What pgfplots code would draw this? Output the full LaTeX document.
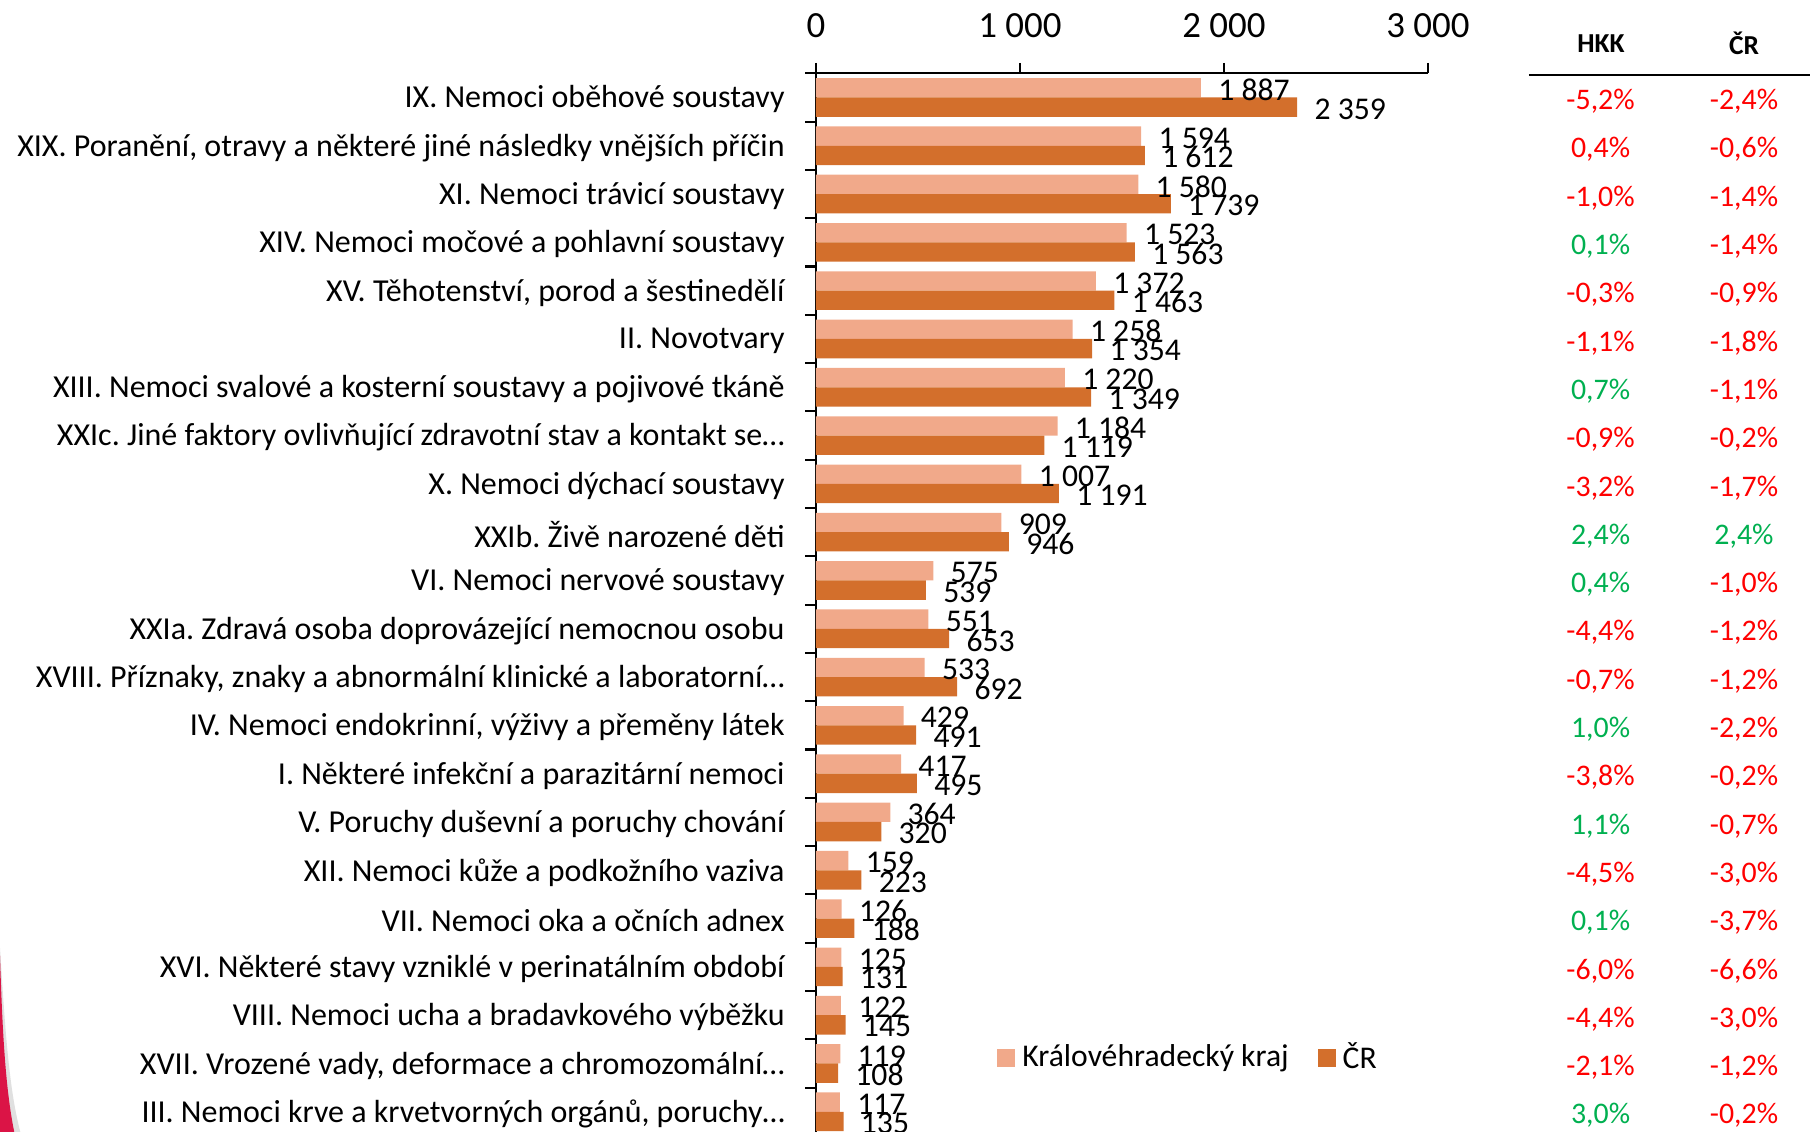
\documentclass[border=0pt]{standalone}
\usepackage{fontspec}
\setmainfont{Carlito}
\usepackage{pgfplots}
\usepackage{pgfplotstable}
\pgfplotsset{compat=1.18}
\frenchspacing

\definecolor{hkk}{HTML}{F1A98A}
\definecolor{cr}{HTML}{D36F2C}
\definecolor{neg}{HTML}{FF0000}
\definecolor{pos}{HTML}{00B050}
\definecolor{edge}{HTML}{DB1446}

% hospitalizace na 10 000 obyvatel: Kralovehradecky kraj (hkk), CR (cr)
\pgfplotstableread{
i hkk cr
0 1887 2359
1 1594 1612
2 1580 1739
3 1523 1563
4 1372 1463
5 1258 1354
6 1220 1349
7 1184 1119
8 1007 1191
9 909 946
10 575 539
11 551 653
12 533 692
13 429 491
14 417 495
15 364 320
16 159 223
17 126 188
18 125 131
19 122 145
20 119 108
21 117 135
}\hosp

\tikzset{pcttext/.style={font=\fontsize{8.5}{10}\selectfont, inner sep=0pt}}
\newcommand{\pct}[5]{%
  \node[pcttext,text=#3] at (axis cs:3846,#1) {#2};
  \node[pcttext,text=#5] at (axis cs:4549,#1) {#4};}

\begin{document}
\begin{tikzpicture}
\begin{axis}[
    scale only axis,
    width=61.2mm, height=106.26mm,
    xbar, bar width=0.4,
    xmin=0, xmax=3000,
    ymin=-0.5, ymax=21.5,
    y dir=reverse,
    enlargelimits=false,
    clip=false,
    axis x line=top, axis y line=left,
    axis line style={-, line width=0.6pt},
    xtick={0,1000,2000,3000},
    minor xtick={0,1000,2000,3000},
    scaled x ticks=false,
    ytick={0,...,21},
    minor ytick={-0.5,0.5,...,21.5},
    major tick length=0pt, minor tick length=1.05mm,
    tick align=outside,
    tick style={black, line width=0.6pt},
    /pgf/number format/assume math mode=true,
    /pgf/number format/1000 sep={\ },
    xticklabel style={font=\fontsize{10.5}{12}\selectfont, yshift=2.3mm},
    yticklabel style={font=\fontsize{9.1}{11}\selectfont, xshift=-1.9mm, yshift=-0.2mm},
    yticklabels={
      {IX. Nemoci oběhové soustavy},
      {XIX. Poranění, otravy a některé jiné následky vnějších příčin},
      {XI. Nemoci trávicí soustavy},
      {XIV. Nemoci močové a pohlavní soustavy},
      {XV. Těhotenství, porod a šestinedělí},
      {II. Novotvary},
      {XIII. Nemoci svalové a kosterní soustavy a pojivové tkáně},
      {XXIc. Jiné faktory ovlivňující zdravotní stav a kontakt se…},
      {X. Nemoci dýchací soustavy},
      {XXIb. Živě narozené děti},
      {VI. Nemoci nervové soustavy},
      {XXIa. Zdravá osoba doprovázející nemocnou osobu},
      {XVIII. Příznaky, znaky a abnormální klinické a laboratorní…},
      {IV. Nemoci endokrinní, výživy a přeměny látek},
      {I. Některé infekční a parazitární nemoci},
      {V. Poruchy duševní a poruchy chování},
      {XII. Nemoci kůže a podkožního vaziva},
      {VII. Nemoci oka a očních adnex},
      {XVI. Některé stavy vzniklé v perinatálním období},
      {VIII. Nemoci ucha a bradavkového výběžku},
      {XVII. Vrozené vady, deformace a chromozomální…},
      {III. Nemoci krve a krvetvorných orgánů, poruchy…}},
    point meta=x,
    nodes near coords={\pgfmathprintnumber{\pgfplotspointmeta}},
    every node near coord/.append style={font=\fontsize{9}{10}\selectfont, black, xshift=0.5mm, yshift=-0.2mm},
    legend style={at={(axis cs:886,19.887)}, anchor=west, draw=none, fill=none,
      inner sep=0pt, legend columns=2, font=\fontsize{9}{10}\selectfont,
      /tikz/every even column/.append style={column sep=2.2mm}},
    legend image code/.code={\fill[#1] (0mm,-0.9mm) rectangle (1.8mm,0.9mm);},
]
\addplot[fill=hkk, draw=none, bar shift=0pt] table[x=hkk, y expr=\thisrow{i}-0.2] {\hosp};
\addlegendentry{Královéhradecký kraj}
\addplot[fill=cr, draw=none, bar shift=0pt] table[x=cr, y expr=\thisrow{i}+0.2] {\hosp};
\addlegendentry{ČR}

% tabulka mezirocnich zmen
\node[font=\bfseries\fontsize{7.8}{9}\selectfont] at (axis cs:3848,-1.117) {HKK};
\node[font=\bfseries\fontsize{7.8}{9}\selectfont] at (axis cs:4549,-1.117) {ČR};
\draw[line width=0.8pt] (axis cs:3495,-0.465) -- (axis cs:4950,-0.465);
\pct{0.08}{-5,2\%}{neg}{-2,4\%}{neg}
\pct{1.08}{0,4\%}{neg}{-0,6\%}{neg}
\pct{2.08}{-1,0\%}{neg}{-1,4\%}{neg}
\pct{3.08}{0,1\%}{pos}{-1,4\%}{neg}
\pct{4.08}{-0,3\%}{neg}{-0,9\%}{neg}
\pct{5.08}{-1,1\%}{neg}{-1,8\%}{neg}
\pct{6.08}{0,7\%}{pos}{-1,1\%}{neg}
\pct{7.08}{-0,9\%}{neg}{-0,2\%}{neg}
\pct{8.08}{-3,2\%}{neg}{-1,7\%}{neg}
\pct{9.08}{2,4\%}{pos}{2,4\%}{pos}
\pct{10.08}{0,4\%}{pos}{-1,0\%}{neg}
\pct{11.08}{-4,4\%}{neg}{-1,2\%}{neg}
\pct{12.08}{-0,7\%}{neg}{-1,2\%}{neg}
\pct{13.08}{1,0\%}{pos}{-2,2\%}{neg}
\pct{14.08}{-3,8\%}{neg}{-0,2\%}{neg}
\pct{15.08}{1,1\%}{pos}{-0,7\%}{neg}
\pct{16.08}{-4,5\%}{neg}{-3,0\%}{neg}
\pct{17.08}{0,1\%}{pos}{-3,7\%}{neg}
\pct{18.08}{-6,0\%}{neg}{-6,6\%}{neg}
\pct{19.08}{-4,4\%}{neg}{-3,0\%}{neg}
\pct{20.08}{-2,1\%}{neg}{-1,2\%}{neg}
\pct{21.08}{3,0\%}{pos}{-0,2\%}{neg}

% okraj slidu vlevo dole
\fill[black!12] (axis cs:-4000,17.6) .. controls (axis cs:-3975,19.3) and (axis cs:-3955,20.6) .. (axis cs:-3895,21.5) -- (axis cs:-4000,21.5) -- cycle;
\fill[edge] (axis cs:-4000,17.75) .. controls (axis cs:-3988,19.4) and (axis cs:-3972,20.6) .. (axis cs:-3926,21.5) -- (axis cs:-4000,21.5) -- cycle;

\coordinate (pageTL) at (axis cs:-4000,-2.0176);
\coordinate (pageBR) at (axis cs:4872.5,21.40);
\end{axis}
\pgfresetboundingbox
\path[use as bounding box] (pageTL) rectangle (pageBR);
\end{tikzpicture}
\end{document}
